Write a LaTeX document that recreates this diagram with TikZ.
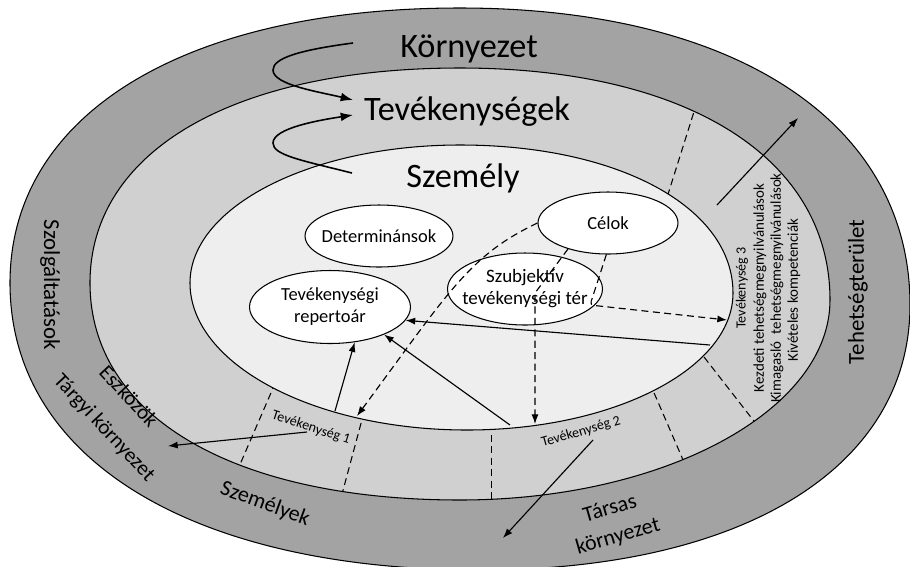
\documentclass[tikz,border=0pt]{standalone}
\usepackage{fontspec}
\setmainfont{Carlito}
\usetikzlibrary{shapes.geometric,arrows.meta}
\definecolor{outerg}{RGB}{163,163,163}
\definecolor{midg}{RGB}{208,208,208}
\definecolor{innerg}{RGB}{238,238,238}
\newcommand{\myfs}[2]{\fontsize{#1}{#2}\selectfont}
\begin{document}
\begin{tikzpicture}[x=0.02cm,y=-0.02cm,
  bound/.style={draw=black,line width=0.6pt},
  oval/.style={ellipse,draw=black,fill=white,line width=0.6pt,inner sep=0pt},
  lbl/.style={inner sep=0pt,align=center},
  bigtxt/.style={lbl,font=\myfs{19.5}{23}},
  ovaltxt/.style={lbl,font=\myfs{10.5}{12.5}},
  bandtxt/.style={lbl,font=\myfs{13}{16}},
  smalltxt/.style={lbl,font=\myfs{8}{10}},
  listtxt/.style={lbl,font=\myfs{8.5}{10}},
  arr/.style={-{Latex[length=5.5pt,width=4pt]},line width=0.65pt},
  darr/.style={arr,dash pattern=on 4pt off 2.5pt},
  radial/.style={line width=0.6pt,dash pattern=on 4pt off 2.5pt},
  bigarr/.style={-{Latex[length=7pt,width=5pt]},line width=0.9pt}]
\useasboundingbox (0,0) rectangle (910,566);
\clip (0,0) rectangle (910,566);
\fill[white] (0,0) rectangle (910,566);
% outer band
\draw[bound,fill=outerg] (910,305) .. controls (910,467.4) and (743.6,570) .. (480,570)
  .. controls (191.9,570) and (10,458.9) .. (10,283)
  .. controls (10,114.4) and (184.2,8) .. (460,8)
  .. controls (735.9,8) and (910,122.9) .. (910,305) -- cycle;
% middle band
\draw[bound,fill=midg] (830,300) .. controls (830,410.4) and (664.2,500) .. (460,500)
  .. controls (233.2,500) and (90,416.0) .. (90,283)
  .. controls (90,151.2) and (233.2,68) .. (460,68)
  .. controls (686.8,68) and (830,157.8) .. (830,300) -- cycle;
% radial dashed separators in the middle band
\begin{scope}
\clip (830,300) .. controls (830,410.4) and (664.2,500) .. (460,500)
  .. controls (233.2,500) and (90,416.0) .. (90,283)
  .. controls (90,151.2) and (233.2,68) .. (460,68)
  .. controls (686.8,68) and (830,157.8) .. (830,300) -- cycle;
\draw[radial] (664,207) -- (698,99);
\draw[radial] (690,339) -- (764,434);
\draw[radial] (645,372) -- (690,476);
\draw[radial] (491.5,412) -- (491.5,520);
\draw[radial] (367,401) -- (338,509);
\draw[radial] (280,372) -- (235,476);
\end{scope}
% inner (Szemely)
\draw[bound,fill=innerg] (733,293) .. controls (733,368.6) and (613.8,430) .. (467,430)
  .. controls (314.1,430) and (190,364.1) .. (190,283)
  .. controls (190,206.8) and (311.0,145) .. (460,145)
  .. controls (618.3,145) and (733,207.2) .. (733,293) -- cycle;

% big titles
\node[bigtxt,anchor=base] (korny) at (469,57) {Környezet};
\node[bigtxt,anchor=base] (tev) at (467,120) {Tevékenységek};
\node[bigtxt,anchor=base] (szem) at (463,187) {Személy};

% loop arrows
\coordinate (l1s) at (353,43);
\coordinate (l1e) at (353,100);
\draw[bigarr] (l1s) .. controls (300,50) and (273,58) .. (273,70)
  .. controls (273,85) and (320,92) .. (l1e);
\coordinate (l2s) at (352,173);
\coordinate (l2e) at (353,115);
\draw[bigarr] (l2s) .. controls (300,160) and (273,155) .. (273,143)
  .. controls (273,128) and (320,120) .. (l2e);

% inner ovals
\node[oval,minimum width=2.96cm,minimum height=1.24cm] (det) at (379,236) {};
\node[ovaltxt] (detl) at (det) {Determinánsok};
\node[oval,minimum width=2.8cm,minimum height=1.24cm] (cel) at (608,223) {};
\node[ovaltxt] (cell) at (cel) {Célok};
\node[oval,minimum width=3.22cm,minimum height=1.46cm] (rep) at (330,307) {};
\node[ovaltxt] (repl) at (rep) {Tevékenységi\\repertoár};

% dashed arrow from Celok down-left
\coordinate (b1e) at (357,416);
\node[oval,minimum width=3.1cm,minimum height=1.44cm] (szub) at (525,289) {};
\draw[darr] (cel.west) .. controls (470,255) and (450,290) .. (b1e);
\node[ovaltxt,font=\myfs{10.8}{12.5}] (szubl) at (szub) {Szubjektív\\tevékenységi tér};

% dashed arrows from Celok through Szubjektiv
\coordinate (c1m) at (535,293);
\coordinate (c1e) at (535,424);
\draw[darr] (cel.-147) -- (c1m) -- (c1e);
\coordinate (d1m) at (590,305);
\coordinate (d1e) at (727,320);
\draw[darr,rounded corners=2pt] (cel.-93) -- (d1m) -- (d1e);

% solid arrows to repertoar
\coordinate (a1s) at (335,411);
\draw[arr] (a1s) -- (rep.-55);
\coordinate (a2s) at (710,345);
\draw[arr] (a2s) -- (rep.-10);
\coordinate (a3s) at (510,425);
\draw[arr] (a3s) -- (rep.-27);

% outward arrows
\coordinate (g1s) at (307,432);
\coordinate (g1e) at (168,446);
\draw[arr] (g1s) -- (g1e);
\coordinate (h1s) at (593,440);
\coordinate (h1e) at (503,538);
\draw[arr] (h1s) -- (h1e);
\coordinate (i1s) at (717,205);
\coordinate (i1e) at (798,118);
\draw[arr] (i1s) -- (i1e);

% band labels
\node[smalltxt,rotate=-18] (tv1) at (311,428) {Tevékenység 1};
\node[smalltxt,rotate=16] (tv2) at (581,432) {Tevékenység 2};
\node[smalltxt,rotate=90] (tv3) at (742,288) {Tevékenység 3};
\node[listtxt,rotate=90] (kezd) at (760,288) {Kezdeti tehetségmegnyilvánulások};
\node[listtxt,rotate=90] (kima) at (777,288) {Kimagasló\hspace{0.5em}tehetségmegnyilvánulások};
\node[listtxt,rotate=90] (kive) at (794,290) {Kivételes kompetenciák};

\node[bandtxt,rotate=90] (teh) at (858,292) {Tehetségterület};
\node[bandtxt,rotate=-90] (szol) at (50,285) {Szolgáltatások};
\node[lbl,font=\myfs{12}{15},rotate=-47] (eszk) at (129,396) {Eszközök};
\node[lbl,font=\myfs{12}{15},rotate=-47] (targ) at (104,428) {Tárgyi környezet};
\node[lbl,font=\myfs{12.5}{15},rotate=-20] (szemk) at (265,504) {Személyek};
\node[lbl,font=\myfs{12.5}{16.5},rotate=16] (tars) at (614,523) {Társas\\környezet};
\end{tikzpicture}
\end{document}
